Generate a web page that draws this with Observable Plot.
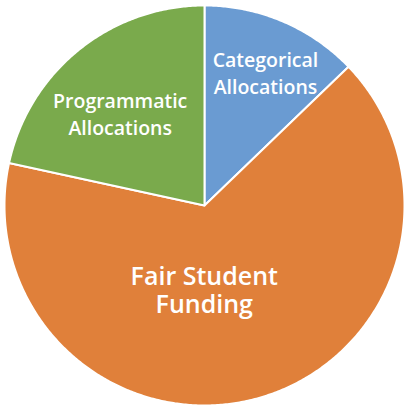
<!DOCTYPE html>
<html>
<head>
<meta charset="utf-8">
<script src="https://cdn.jsdelivr.net/npm/d3@7"></script>
<script src="https://cdn.jsdelivr.net/npm/@observablehq/plot@0.6"></script>
<style>
  html, body { margin: 0; padding: 0; background: #ffffff; }
  #chart { width: 410px; height: 409px; }
</style>
</head>
<body>
<div id="chart"></div>
<script>
// Data (share of the pie, %)
const categories = ["Categorical Allocations", "Fair Student Funding", "Programmatic Allocations"];
const values = [12.8, 65.6, 21.6];
const labels = ["Categorical\nAllocations", "Fair Student\nFunding", "Programmatic\nAllocations"];
const colors = ["#6a9bd2", "#e0803a", "#7aaa4c"];

// Pie angles (clockwise from 12 o'clock, in data order)
const pie = d3.pie().sort(null).value(d => d.value);
const arcs = pie(categories.map((c, i) => ({category: c, value: values[i], label: labels[i]})));

// Slice outlines in unit coordinates
const slicePts = [];
for (const a of arcs) {
  const c = a.data.category;
  slicePts.push({category: c, x: 0, y: 0});
  const steps = Math.max(2, Math.ceil((a.endAngle - a.startAngle) / (Math.PI / 360)));
  for (let k = 0; k <= steps; k++) {
    const t = a.startAngle + (a.endAngle - a.startAngle) * k / steps;
    slicePts.push({category: c, x: Math.sin(t), y: Math.cos(t)});
  }
}

// Label anchors: arc centroid at 60% radius
const labelPts = arcs.map(a => {
  const m = (a.startAngle + a.endAngle) / 2;
  return {category: a.data.category, label: a.data.label, x: 0.6 * Math.sin(m), y: 0.6 * Math.cos(m)};
});
const font = "'Open Sans', 'Noto Sans', sans-serif";
const textMark = (cat, size, lh, dx, dy) => Plot.text(labelPts.filter(d => d.category === cat), {
  x: "x", y: "y", text: "label", fill: "white", fontSize: size, fontWeight: 600,
  fontFamily: font, textAnchor: "middle", lineAnchor: "middle", lineHeight: lh, dx, dy
});

const chart = Plot.plot({
  width: 410,
  height: 409,
  margin: 0,
  style: {background: "#ffffff", fontFamily: font},
  x: {domain: [-1, 1], range: [4, 404], axis: null},
  y: {domain: [-1, 1], range: [405, 5], axis: null},
  color: {domain: categories, range: colors},
  marks: [
    Plot.line(slicePts, {
      x: "x", y: "y", z: "category", fill: "category",
      stroke: "white", strokeWidth: 2, strokeLinejoin: "round", curve: "linear-closed"
    }),
    textMark(categories[0], 19.5, 1.4, 14, -23),
    textMark(categories[1], 25, 1.12, -33, -31),
    textMark(categories[2], 19.5, 1.4, -9, 1)
  ]
});
document.getElementById("chart").appendChild(chart);
</script>
</body>
</html>
